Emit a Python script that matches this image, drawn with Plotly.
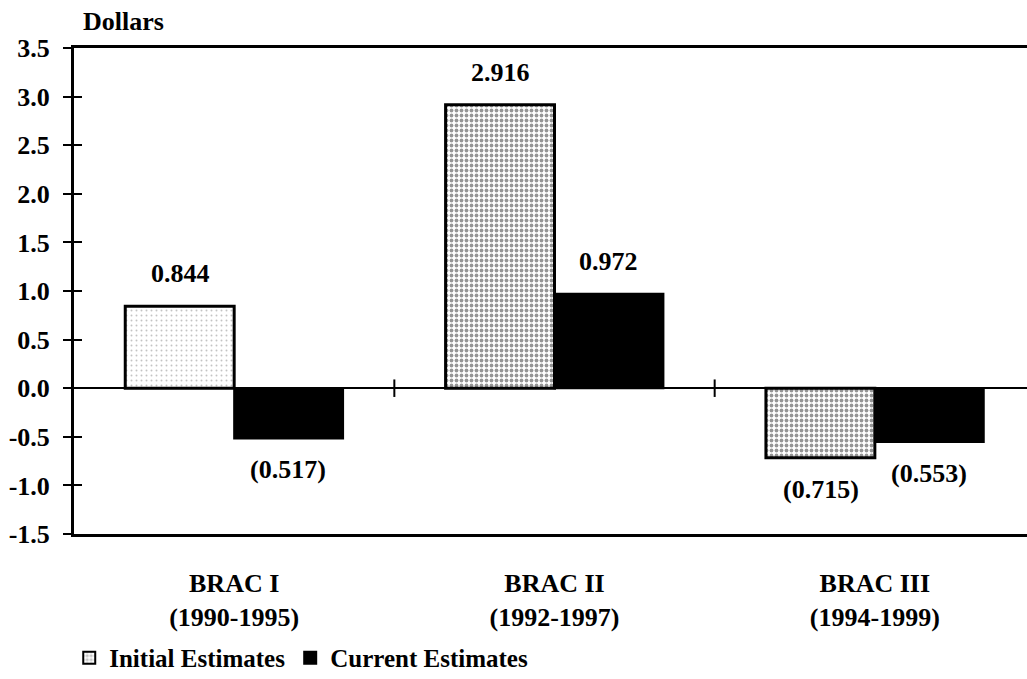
import plotly.graph_objects as go

categories = ["BRAC I<br>(1990-1995)", "BRAC II<br>(1992-1997)", "BRAC III<br>(1994-1999)"]
initial_estimates = [0.844, 2.916, -0.715]
current_estimates = [-0.517, 0.972, -0.553]
series_names = ["Initial Estimates", "Current Estimates"]
y_tick_values = [-1.5, -1.0, -0.5, 0.0, 0.5, 1.0, 1.5, 2.0, 2.5, 3.0, 3.5]
y_tick_labels = [f"{v:.1f}" for v in y_tick_values]


def fmt(v):
    return f"({abs(v):.3f})" if v < 0 else f"{v:.3f}"


FAMILY = "Liberation Serif, Times New Roman, Times, serif"
FONT = dict(family=FAMILY, size=26, color="black", weight="bold")
LEGEND_FONT = dict(family=FAMILY, size=25, color="black", weight="bold")

fig = go.Figure()
fig.add_trace(go.Bar(
    x=categories, y=initial_estimates, name=series_names[0],
    marker=dict(
        color="white",
        line=dict(color="black", width=3),
        pattern=dict(shape=".", fgcolor=["#888888", "#2a2a2a", "#2a2a2a"],
                     bgcolor="white", solidity=[0.12, 0.45, 0.45], size=5),
    ),
))
fig.add_trace(go.Bar(
    x=categories, y=current_estimates, name=series_names[1],
    marker=dict(color="black", line=dict(color="black", width=2)),
))

annotations = []
for series, shift in ((initial_estimates, -54), (current_estimates, 54)):
    for cat, v in zip(categories, series):
        annotations.append(dict(
            x=cat, y=v, xref="x", yref="y", text=fmt(v), showarrow=False,
            xshift=shift, yshift=16 if v >= 0 else -15,
            yanchor="bottom" if v >= 0 else "top", font=FONT,
        ))
annotations.append(dict(
    x=0.007, y=1, xref="paper", yref="paper", text="Dollars", showarrow=False,
    xanchor="left", yanchor="bottom", yshift=10, font=FONT,
))
fig.update_layout(annotations=annotations)

# crossing ticks on the zero line between groups
shapes = []
for b in (0.5, 1.5):
    shapes.append(dict(type="line", xref="x", yref="y", x0=b, x1=b, y0=-0.09, y1=0.09,
                       line=dict(color="black", width=2)))
fig.update_layout(shapes=shapes)

fig.update_layout(
    width=1027, height=679,
    margin=dict(l=74, r=0, t=48, b=145, autoexpand=False),
    paper_bgcolor="white", plot_bgcolor="white",
    font=FONT,
    barmode="group", bargap=0.32, bargroupgap=0,
    showlegend=True,
    legend=dict(orientation="h", x=-0.005, xanchor="left", y=-0.255, yanchor="middle",
                font=LEGEND_FONT, itemsizing="constant", traceorder="normal",
                itemwidth=30, tracegroupgap=0),
    xaxis=dict(range=[-0.5, 2.475], showgrid=False, zeroline=False, automargin=False,
               showline=True, linecolor="black", linewidth=3, mirror=True,
               ticks="", ticklabelstandoff=24, tickfont=FONT),
    yaxis=dict(range=[-1.5, 3.5], tickvals=y_tick_values, ticktext=y_tick_labels,
               automargin=False,
               showgrid=False, zeroline=True, zerolinecolor="black", zerolinewidth=2,
               showline=True, linecolor="black", linewidth=3,
               ticks="outside", ticklen=8, tickwidth=2, tickcolor="black",
               ticklabelstandoff=8, tickfont=FONT),
    yaxis2=dict(range=[-1.5, 3.5], tickvals=y_tick_values, overlaying="y", side="left",
                showticklabels=False, showgrid=False, zeroline=False, showline=False,
                automargin=False,
                ticks="inside", ticklen=8, tickwidth=2, tickcolor="black"),
)
fig.add_trace(go.Scatter(x=[None], y=[None], yaxis="y2", showlegend=False, hoverinfo="skip"))

fig.write_html("out.html", config={"displayModeBar": False},
               post_script="document.body.style.margin='0';document.body.style.overflow='hidden';")
